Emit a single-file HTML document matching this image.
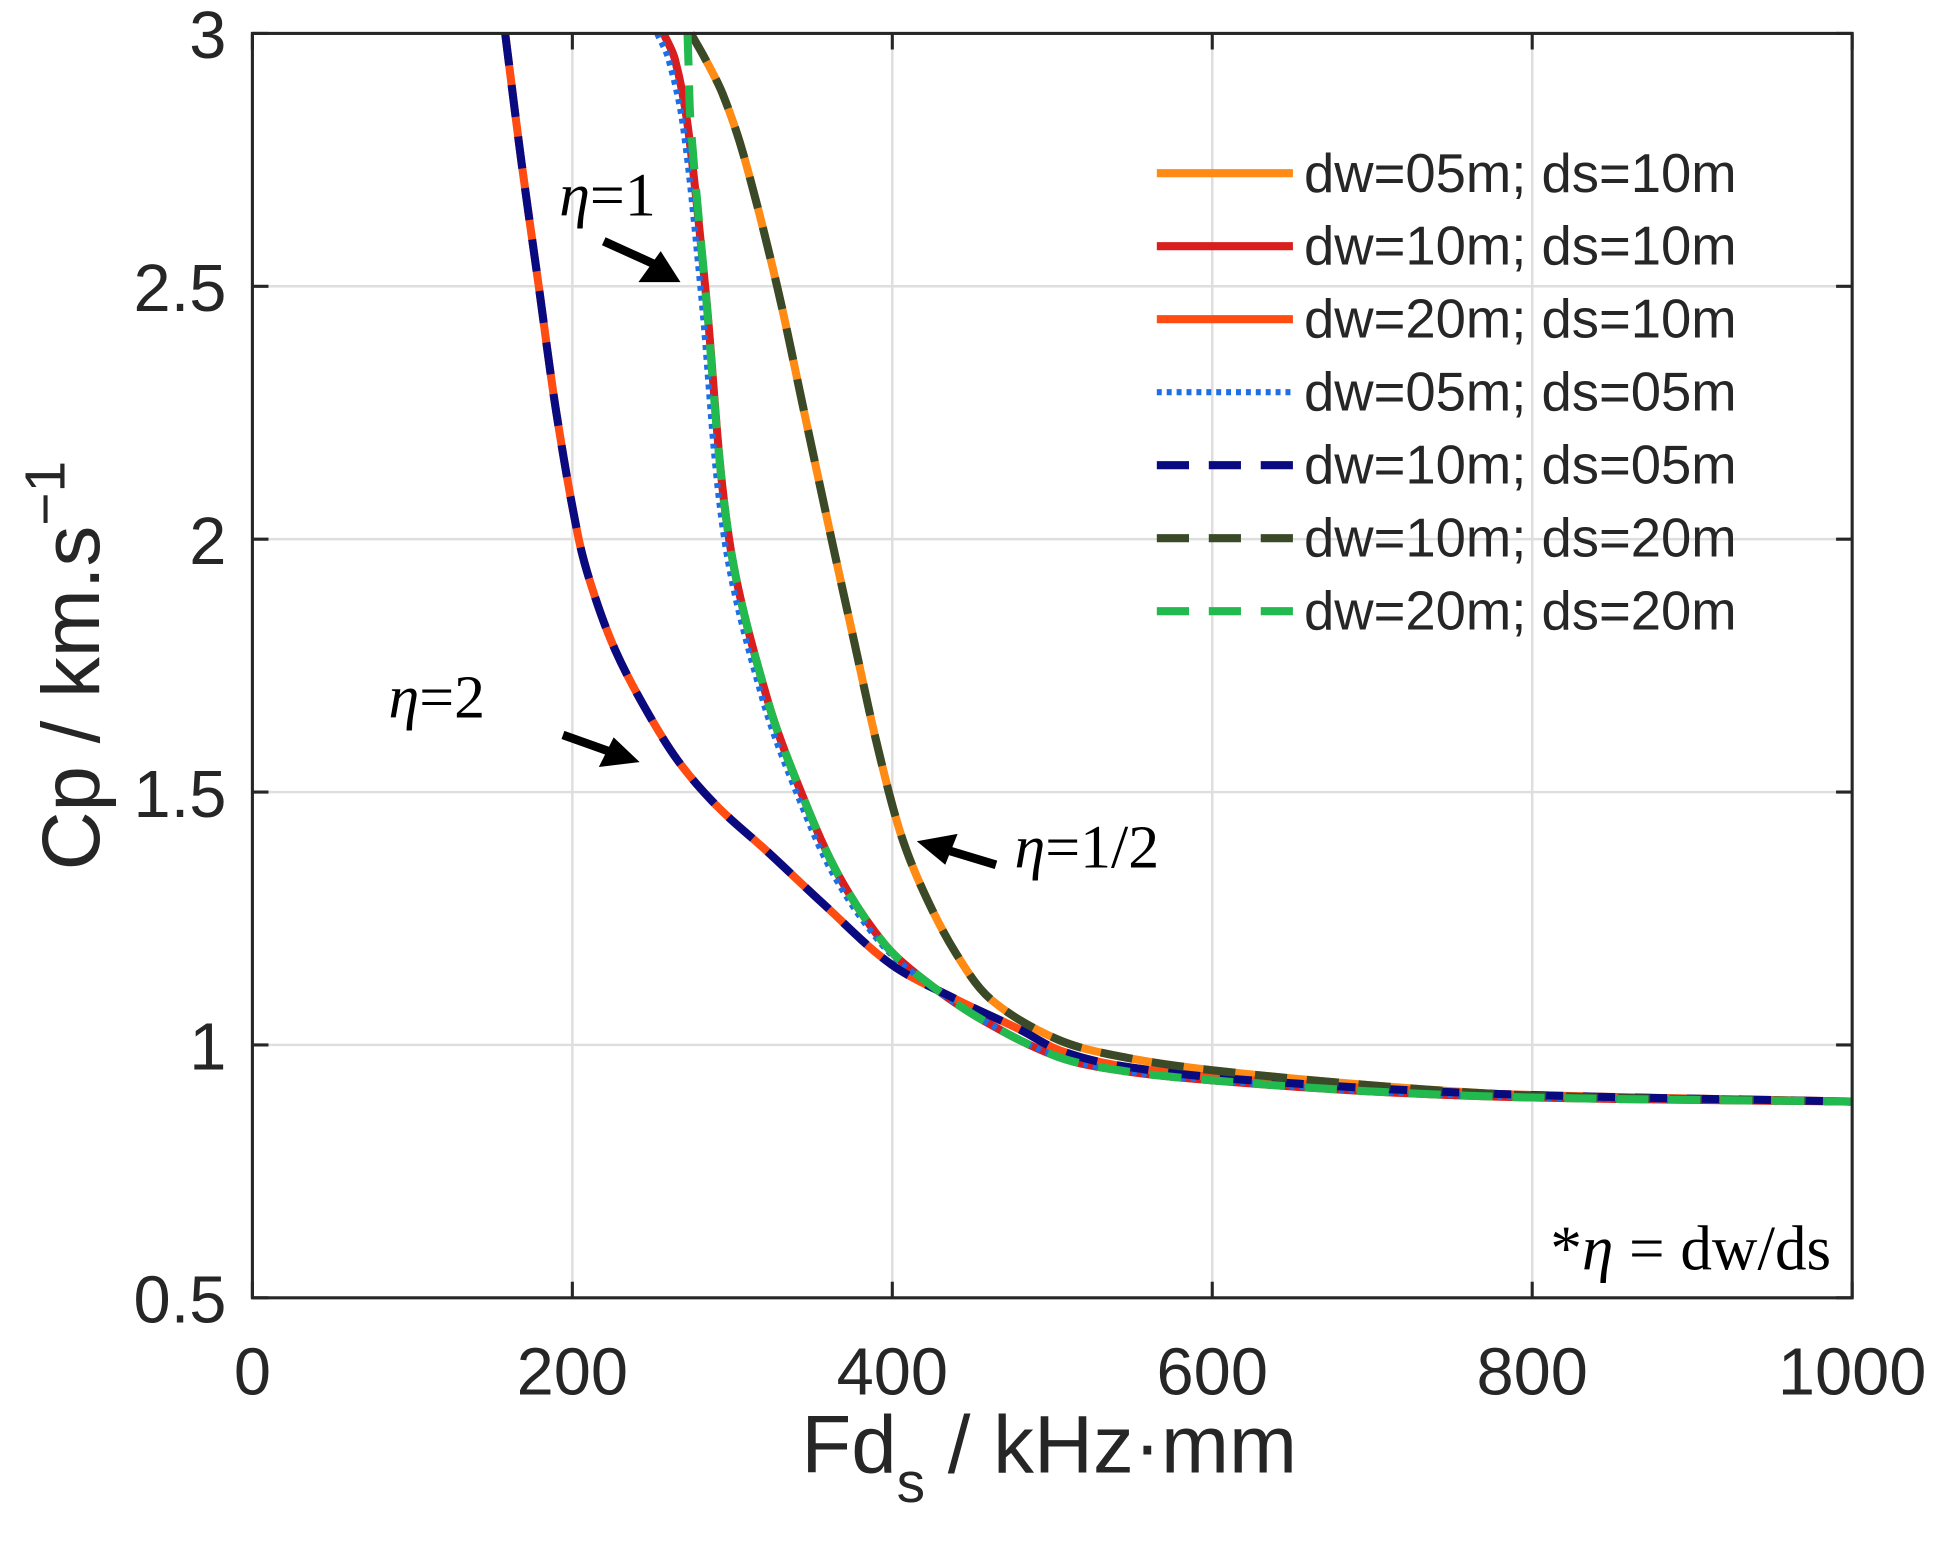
<!DOCTYPE html>
<html><head><meta charset="utf-8"><style>
html,body{margin:0;padding:0;background:#fff}
svg{display:block}
text{font-family:"Liberation Sans",sans-serif;fill:#262626}
.serif{font-family:"Liberation Serif",serif;fill:#000}
</style></head><body>
<svg id="chart" width="1940" height="1558" viewBox="0 0 1568 1259.3" preserveAspectRatio="none" xmlns="http://www.w3.org/2000/svg">
<g id="grid"></g>
<g id="series"></g>
<g id="axes"></g>
<g id="legend"></g>
<g>
<text class="serif" x="452" y="174" font-size="50"><tspan font-style="italic">η</tspan>=1</text>
<text class="serif" x="314" y="580" font-size="50"><tspan font-style="italic">η</tspan>=2</text>
<text class="serif" x="820" y="701" font-size="50"><tspan font-style="italic">η</tspan>=1/2</text>
<text class="serif" x="1480" y="1026" font-size="51" text-anchor="end">*<tspan font-style="italic">η</tspan> = dw/ds</text>
<g><line x1="488" y1="195" x2="530" y2="214" stroke="#000" stroke-width="7"/><polygon points="550,228 516,228 534,203" fill="#000"/></g>
<g><line x1="455" y1="594" x2="497" y2="609" stroke="#000" stroke-width="7"/><polygon points="517,616 484,620 496,596" fill="#000"/></g>
<g><line x1="805" y1="699" x2="762" y2="686" stroke="#000" stroke-width="7"/><polygon points="741,680 774,674 764,699" fill="#000"/></g>
</g>
</svg>
<script>
const xTicks=[0,200,400,600,800,1000];
const yTicks=[0.5,1,1.5,2,2.5,3];
const yTickLabels=["0.5","1","1.5","2","2.5","3"];
const seriesNames=["dw=05m; ds=10m","dw=10m; ds=10m","dw=20m; ds=10m","dw=05m; ds=05m","dw=10m; ds=05m","dw=10m; ds=20m","dw=20m; ds=20m"];
const seriesColors=["#FF8A14","#D91E1E","#FF4C12","#1E6FE6","#0A0A80","#3A4A28","#22BA4E"];
const seriesDash=["","","","4 4","26 16","26 16","26 16"];
// eta = 1/2 curve
const halfX=[274,283,294,307,328,345,362,376,390,405,420,440,462,504,546,600,700,800,1000];
const halfY=[3,2.95,2.88,2.76,2.5,2.25,2.0,1.8,1.6,1.42,1.3,1.18,1.089,1.01,0.975,0.95,0.92,0.9,0.888];
// eta = 1 curve
const oneX=[257,264,272,283,298,322,345,367,395,420,456,504,546,600,700,800,1000];
const oneY=[3,2.95,2.82,2.5,2.0,1.682,1.484,1.332,1.2,1.128,1.05,0.976,0.948,0.93,0.908,0.896,0.888];
const oneDotX=[253,260,269,280,295,319,342,364,393,419,456,504,546,600,700,800,1000];
const oneGreenX=[272,272.5,274,283,298,322,345,367,395,420,456,504,546,600,700,800,1000];
const oneGreenY=[3,2.95,2.82,2.5,2.0,1.682,1.484,1.332,1.2,1.128,1.05,0.976,0.948,0.93,0.908,0.896,0.888];
// eta = 2 curve
const twoX=[158,168,179,190,204,213.5,226.6,244.4,266,290.8,321.7,356.5,399,440,480,504,540,616,770,1000];
const twoY=[3,2.75,2.5,2.25,2.0,1.892,1.782,1.672,1.562,1.471,1.383,1.28,1.16,1.09,1.03,0.99,0.96,0.932,0.904,0.888];
const seriesX=[halfX,oneX,twoX,oneDotX,twoX,halfX,oneGreenX];
const seriesY=[halfY,oneY,twoY,oneY,twoY,halfY,oneGreenY];

const L=204,R=1497,T=27,B=1049;
const sx=v=>L+(v-0)/(1000-0)*(R-L);
const sy=v=>B-(v-0.5)/(3-0.5)*(B-T);
const NS="http://www.w3.org/2000/svg";
function mk(tag,attrs,parent){const e=document.createElementNS(NS,tag);for(const k in attrs)e.setAttribute(k,attrs[k]);parent.appendChild(e);return e;}
const grid=document.getElementById('grid'),axes=document.getElementById('axes'),ser=document.getElementById('series'),leg=document.getElementById('legend');
xTicks.forEach((t,i)=>{
  const g=mk('line',{x1:sx(t),x2:sx(t),y1:T,y2:B,stroke:'#dedede','stroke-width':2},grid);
  
  
  const tb=mk('line',{x1:sx(t),x2:sx(t),y1:B,y2:B-13,stroke:'#262626','stroke-width':2.5},axes);
  
  
  const tt=mk('line',{x1:sx(t),x2:sx(t),y1:T,y2:T+13,stroke:'#262626','stroke-width':2.5},axes);
  
  
  const lb=mk('text',{x:sx(t),y:1127,'font-size':54,'text-anchor':'middle'},axes);
  lb.textContent=String(t);
  
  
});
yTicks.forEach((t,i)=>{
  const g=mk('line',{x1:L,x2:R,y1:sy(t),y2:sy(t),stroke:'#dedede','stroke-width':2},grid);
  
  
  const tl=mk('line',{x1:L,x2:L+13,y1:sy(t),y2:sy(t),stroke:'#262626','stroke-width':2.5},axes);
  
  
  const tr=mk('line',{x1:R,x2:R-13,y1:sy(t),y2:sy(t),stroke:'#262626','stroke-width':2.5},axes);
  
  
  const lb=mk('text',{x:183,y:sy(t)+20,'font-size':54,'text-anchor':'end'},axes);
  lb.textContent=yTickLabels[i];
  
  
});
const box=mk('rect',{x:L,y:T,width:R-L,height:B-T,fill:'none',stroke:'#262626','stroke-width':2.5},axes);


const xl=mk('text',{x:848,y:1190,'font-size':66,'text-anchor':'middle'},axes);
xl.innerHTML='Fd<tspan dy="24" font-size="46">s</tspan><tspan dy="-24"> / kHz·mm</tspan>';


const yl=mk('text',{x:0,y:0,'font-size':66,'text-anchor':'middle',transform:'translate(80,538) rotate(-90)'},axes);
yl.innerHTML='Cp / km.s<tspan dy="-28" font-size="46">−1</tspan>';



function pathFor(xs,ys){
  const p=xs.map((x,i)=>[sx(x),sy(ys[i])]);
  const dist=(a,b)=>Math.hypot(a[0]-b[0],a[1]-b[1]);
  let d='M'+p[0][0].toFixed(2)+','+p[0][1].toFixed(2);
  for(let i=0;i<p.length-1;i++){
    const p0=p[i-1]||p[i],p1=p[i],p2=p[i+1],p3=p[i+2]||p2;
    const d1=dist(p1,p2);
    const t1=[(p2[0]-p0[0]),(p2[1]-p0[1])],n1=Math.hypot(t1[0],t1[1])||1;
    const t2=[(p3[0]-p1[0]),(p3[1]-p1[1])],n2=Math.hypot(t2[0],t2[1])||1;
    const c1=[p1[0]+t1[0]/n1*d1/3,p1[1]+t1[1]/n1*d1/3];
    const c2=[p2[0]-t2[0]/n2*d1/3,p2[1]-t2[1]/n2*d1/3];
    d+=' C'+c1.map(v=>v.toFixed(2))+' '+c2.map(v=>v.toFixed(2))+' '+p2.map(v=>v.toFixed(2));
  }
  return d;
}
seriesNames.forEach((n,i)=>{
  const w=i===3?5:6.5;
  const a={d:pathFor(seriesX[i],seriesY[i]),fill:'none',stroke:seriesColors[i],'stroke-width':w};
  if(seriesDash[i])a['stroke-dasharray']=seriesDash[i];
  const p=mk('path',a,ser);
  
  
  const ly=140+i*59;
  const la={x1:935,x2:1045,y1:ly,y2:ly,stroke:seriesColors[i],'stroke-width':w};
  if(seriesDash[i])la['stroke-dasharray']=seriesDash[i];
  const ln=mk('line',la,leg);
  
  
  const tx=mk('text',{x:1054,y:ly+15,'font-size':44,fill:'#000'},leg);
  tx.textContent=n;
  
  
});
</script>
</body></html>
